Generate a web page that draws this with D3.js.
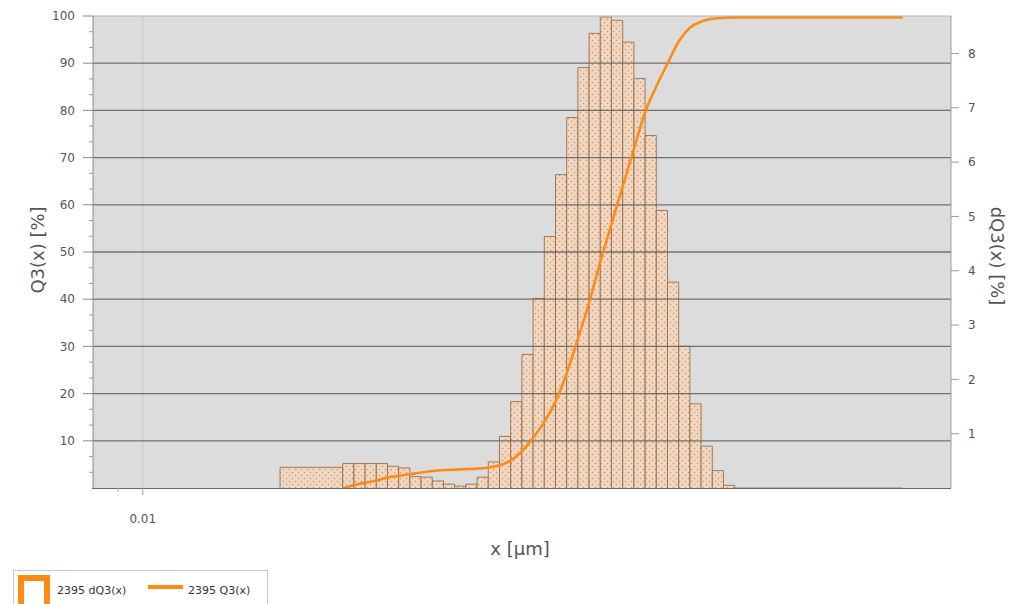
<!DOCTYPE html>
<html>
<head>
<meta charset="utf-8">
<script src="https://cdn.jsdelivr.net/npm/d3@7"></script>
<style>
  html, body { margin: 0; padding: 0; background: #fff; }
  svg { display: block; font-family: "DejaVu Sans", Verdana, sans-serif; }
</style>
</head>
<body>
<svg id="chart" width="1016" height="604"></svg>
<script>
// ---------- data ----------
// bin edges of the narrow size classes (µm)
const binEdges = [0.07779, 0.08727, 0.09790, 0.1098, 0.1232, 0.1382, 0.1550, 0.1739, 0.1951, 0.2189,
  0.2455, 0.2754, 0.3090, 0.3466, 0.3888, 0.4362, 0.4893, 0.5489, 0.6158, 0.6908,
  0.7749, 0.8693, 0.9752, 1.094, 1.227, 1.377, 1.544, 1.733, 1.944, 2.180,
  2.446, 2.744, 3.078, 3.453, 3.873, 4.345, 4.874, 5.468, 6.134, 6.881,
  7.719, 8.659, 9.714, 10.90, 12.22, 13.71, 15.38, 17.26, 19.36, 21.72, 24.36];
// dQ3 per class (%) — right axis
const dQ3Values = [0.45, 0.45, 0.45, 0.45, 0.40, 0.37, 0.21, 0.20, 0.13, 0.07,
  0.035, 0.07, 0.20, 0.48, 0.95, 1.59, 2.46, 3.49, 4.63, 5.77,
  6.82, 7.74, 8.37, 8.67, 8.61, 8.21, 7.54, 6.49, 5.11, 3.79,
  2.61, 1.55, 0.77, 0.32, 0.05, 0, 0, 0, 0, 0,
  0, 0, 0, 0, 0, 0, 0, 0, 0, 0];
// wide first class
const wideBin = { from: 0.0409, to: 0.07779, value: 0.38 };
// cumulative Q3 (%) at each bin edge — left axis
const q3Values = [0, 0.6, 1.1, 1.6, 2.2, 2.6, 2.9, 3.3, 3.6, 3.8,
  3.9, 4.0, 4.1, 4.35, 4.8, 5.8, 7.8, 10.6, 14.0, 18.3,
  24.3, 31.6, 39.3, 47.9, 55.9, 63.9, 71.8, 79.6, 85.1, 89.9,
  94.6, 97.5, 98.8, 99.4, 99.6, 99.7, 99.7, 99.7, 99.7, 99.7,
  99.7, 99.7, 99.7, 99.7, 99.7, 99.7, 99.7, 99.7, 99.7, 99.7, 99.7];
const leftTicks = [10, 20, 30, 40, 50, 60, 70, 80, 90, 100];
const rightTicks = [1, 2, 3, 4, 5, 6, 7, 8];
const xTickLabels = [0.01];
const xMinorTicks = [0.008];
const legendLabels = ["2395 dQ3(x)", "2395 Q3(x)"];

// ---------- layout ----------
const L = 93, R = 951, T = 16, B = 488;
const svg = d3.select("#chart");
const x = d3.scaleLog().domain([0.006, 40]).range([L, R]);
const yL = d3.scaleLinear().domain([0, 100]).range([B, T]);
const yR = d3.scaleLinear().domain([0, 8.69]).range([B, T]);

const defs = svg.append("defs");
const pat = defs.append("pattern").attr("id", "dots").attr("patternUnits", "userSpaceOnUse")
  .attr("width", 6).attr("height", 6);
pat.append("rect").attr("width", 6).attr("height", 6).attr("fill", "#f0d8c2");
pat.append("circle").attr("cx", 1.5).attr("cy", 1.5).attr("r", 0.8).attr("fill", "#e0863a");
pat.append("circle").attr("cx", 4.5).attr("cy", 4.5).attr("r", 0.8).attr("fill", "#e0863a");

// plot background
svg.append("rect").attr("x", L).attr("y", T).attr("width", R - L).attr("height", B - T)
  .attr("fill", "#dcdcdc");

// vertical gridline at 0.01
svg.selectAll(".vgrid").data(xTickLabels).join("line")
  .attr("x1", d => x(d)).attr("x2", d => x(d)).attr("y1", T).attr("y2", B)
  .attr("stroke", "#c6c6c6").attr("stroke-width", 1);

// bars
const bars = dQ3Values.map((v, i) => ({ a: binEdges[i], b: binEdges[i + 1], v }));
bars.unshift({ a: wideBin.from, b: wideBin.to, v: wideBin.value });
svg.append("g").selectAll("path").data(bars).join("path")
  .attr("d", d => `M${x(d.a)},${B}V${yR(d.v)}H${x(d.b)}V${B}`)
  .attr("fill", "url(#dots)").attr("fill-opacity", 0.88)
  .attr("stroke", "#9a6842").attr("stroke-opacity", 0.85).attr("stroke-width", 1);

// horizontal gridlines (on top, seen through bars)
svg.selectAll(".hgrid").data(leftTicks.filter(d => d < 100)).join("line")
  .attr("x1", L).attr("x2", R).attr("y1", d => yL(d)).attr("y2", d => yL(d))
  .attr("stroke", "#656565").attr("stroke-opacity", 0.9).attr("stroke-width", 1.3);

// Q3 curve
const pts = q3Values.map((v, i) => [binEdges[i], v]);
svg.append("path").datum(pts)
  .attr("d", d3.line().x(d => x(d[0])).y(d => yL(d[1])).curve(d3.curveMonotoneX))
  .attr("fill", "none").attr("stroke", "#ff8a14").attr("stroke-width", 2.6);

// frame
svg.append("line").attr("x1", L).attr("x2", R).attr("y1", T).attr("y2", T).attr("stroke", "#b4b4b4");
svg.append("line").attr("x1", R).attr("x2", R).attr("y1", T).attr("y2", B).attr("stroke", "#a0a0a0");
svg.append("line").attr("x1", L).attr("x2", L).attr("y1", T).attr("y2", B).attr("stroke", "#8a8a8a");
svg.append("line").attr("x1", L - 1).attr("x2", R).attr("y1", B + 0.5).attr("y2", B + 0.5).attr("stroke", "#6a6a6a").attr("stroke-width", 1.2);

// left axis
const minorL = [];
[0, ...leftTicks.slice(0, -1)].forEach(t => { minorL.push(t + 10 / 3, t + 20 / 3); });
svg.selectAll(".lminor").data(minorL).join("line")
  .attr("x1", L - 4).attr("x2", L).attr("y1", d => yL(d)).attr("y2", d => yL(d))
  .attr("stroke", "#9a9a9a");
svg.selectAll(".lmajor").data(leftTicks).join("line")
  .attr("x1", L - 10).attr("x2", L).attr("y1", d => yL(d)).attr("y2", d => yL(d))
  .attr("stroke", "#8a8a8a");
svg.selectAll(".llab").data(leftTicks).join("text")
  .attr("x", 75).attr("y", d => yL(d)).attr("dy", "0.35em").attr("text-anchor", "end")
  .attr("font-size", 12).attr("fill", "#555").text(d => d);

// right axis
svg.selectAll(".rmajor").data(rightTicks).join("line")
  .attr("x1", R).attr("x2", R + 8).attr("y1", d => yR(d)).attr("y2", d => yR(d))
  .attr("stroke", "#9a9a9a");
svg.selectAll(".rlab").data(rightTicks).join("text")
  .attr("x", 968).attr("y", d => yR(d)).attr("dy", "0.35em").attr("text-anchor", "start")
  .attr("font-size", 12).attr("fill", "#555").text(d => d);

// bottom axis
svg.selectAll(".xmaj").data(xTickLabels).join("line")
  .attr("x1", d => x(d)).attr("x2", d => x(d)).attr("y1", B).attr("y2", B + 7)
  .attr("stroke", "#9a9a9a");
svg.selectAll(".xmin").data(xMinorTicks).join("line")
  .attr("x1", d => x(d) - 3).attr("x2", d => x(d) - 3).attr("y1", B).attr("y2", B + 4)
  .attr("stroke", "#b0b0b0");
svg.selectAll(".xlab").data(xTickLabels).join("text")
  .attr("x", d => x(d)).attr("y", 519).attr("dy", "0.35em").attr("text-anchor", "middle")
  .attr("font-size", 12).attr("fill", "#555").text(d => d);

// axis titles
svg.append("text").attr("transform", "translate(44,250) rotate(-90)")
  .attr("text-anchor", "middle").attr("font-size", 18).attr("fill", "#555").text("Q3(x) [%]");
svg.append("text").attr("transform", "translate(991,256) rotate(90)")
  .attr("text-anchor", "middle").attr("font-size", 18).attr("fill", "#555").text("dQ3(x) [%]");
svg.append("text").attr("x", 520).attr("y", 555)
  .attr("text-anchor", "middle").attr("font-size", 18).attr("fill", "#555").text("x [µm]");

// legend
const lg = svg.append("g");
lg.append("rect").attr("x", 13.5).attr("y", 570.5).attr("width", 254).attr("height", 40)
  .attr("fill", "#fff").attr("stroke", "#c8c8c8");
lg.append("path").attr("d", "M21,610V578H47V610").attr("fill", "none")
  .attr("stroke", "#ff8a14").attr("stroke-width", 6);
lg.append("text").attr("x", 57).attr("y", 590).attr("dy", "0.35em").attr("font-size", 11)
  .attr("fill", "#333").text(legendLabels[0]);
lg.append("line").attr("x1", 148).attr("x2", 183).attr("y1", 587).attr("y2", 587)
  .attr("stroke", "#ff8a14").attr("stroke-width", 4);
lg.append("text").attr("x", 188).attr("y", 590).attr("dy", "0.35em").attr("font-size", 11)
  .attr("fill", "#333").text(legendLabels[1]);
</script>
</body>
</html>
